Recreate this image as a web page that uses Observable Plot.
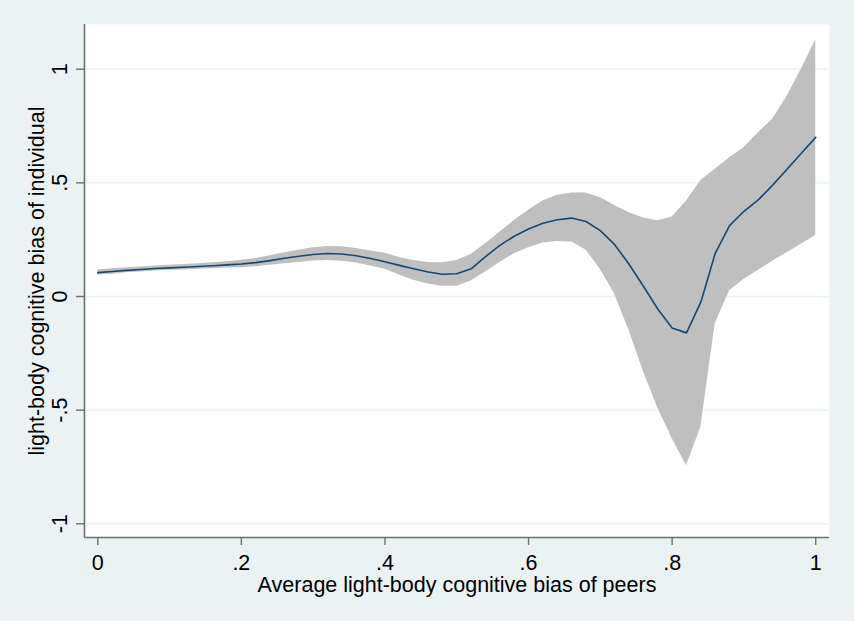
<!DOCTYPE html>
<html><head><meta charset="utf-8">
<script src="https://cdn.jsdelivr.net/npm/d3@7"></script>
<script src="https://cdn.jsdelivr.net/npm/@observablehq/plot@0.6"></script>
<style>
html,body{margin:0;padding:0;background:#EAF2F3;}
</style></head><body><div id="chart"></div>
<script>
const xValues = [0,0.02,0.04,0.06,0.08,0.10,0.12,0.14,0.16,0.18,
  0.20,0.22,0.24,0.26,0.28,0.30,0.32,0.34,0.36,0.38,
  0.40,0.42,0.44,0.46,0.48,0.50,0.52,0.54,0.56,0.58,
  0.60,0.62,0.64,0.66,0.68,0.70,0.72,0.74,0.76,0.78,
  0.80,0.82,0.84,0.86,0.88,0.90,0.92,0.94,0.96,0.98,1.00];
const fitValues = [0.105,0.110,0.115,0.119,0.123,0.126,0.129,0.132,0.135,0.139,
  0.143,0.149,0.158,0.168,0.177,0.185,0.189,0.187,0.179,0.167,
  0.153,0.137,0.122,0.108,0.098,0.100,0.122,0.175,0.225,0.265,
  0.297,0.322,0.338,0.345,0.330,0.290,0.228,0.142,0.045,-0.055,
  -0.139,-0.160,-0.025,0.190,0.312,0.375,0.425,0.490,0.560,0.630,0.700];
const ciUpper = [0.117,0.122,0.126,0.130,0.134,0.137,0.141,0.144,0.148,0.153,
  0.159,0.167,0.179,0.192,0.204,0.214,0.220,0.219,0.211,0.200,
  0.190,0.172,0.158,0.150,0.148,0.158,0.185,0.232,0.283,0.334,
  0.380,0.420,0.445,0.455,0.455,0.435,0.400,0.368,0.345,0.333,
  0.350,0.420,0.510,0.560,0.610,0.655,0.720,0.780,0.880,1.000,1.130];
const ciLower = [0.093,0.098,0.104,0.108,0.112,0.115,0.117,0.120,0.122,0.125,
  0.127,0.131,0.137,0.144,0.150,0.156,0.158,0.155,0.147,0.134,
  0.120,0.095,0.072,0.055,0.045,0.045,0.068,0.108,0.150,0.188,
  0.215,0.235,0.242,0.240,0.205,0.120,0.010,-0.150,-0.330,-0.490,
  -0.625,-0.745,-0.575,-0.120,0.025,0.075,0.115,0.155,0.193,0.230,0.268];
const xTicks = [0,0.2,0.4,0.6,0.8,1];
const xTickLabels = ["0",".2",".4",".6",".8","1"];
const yTicks = [-1,-0.5,0,0.5,1];
const yTickLabels = ["-1","-.5","0",".5","1"];
const xTitle = "Average light-body cognitive bias of peers";
const yTitle = "light-body cognitive bias of individual";

const xDomain = [-0.0185, 1.0192];
const yDomain = [-1.0603, 1.1967];

const data = xValues.map((x, i) => ({x, fit: fitValues[i], lo: ciLower[i], hi: ciUpper[i]}));
const yLab = yTicks.map((v, i) => ({v, t: yTickLabels[i]}));
const axisColor = "#6E6E6E";

const chart = Plot.plot({
  width: 854, height: 621,
  marginLeft: 84, marginRight: 25, marginTop: 24, marginBottom: 84,
  style: {background: "#EAF2F3", fontFamily: "'Liberation Sans', Arial, sans-serif", fontSize: "21.5px", color: "#000", overflow: "visible"},
  x: {domain: xDomain},
  y: {domain: yDomain},
  marks: [
    Plot.frame({fill: "white", stroke: "none"}),
    Plot.gridY(yTicks, {stroke: "#EAF2F3", strokeOpacity: 1, strokeWidth: 1.5}),
    Plot.areaY(data, {x: "x", y1: "lo", y2: "hi", fill: "#BFBFBF"}),
    Plot.lineY(data, {x: "x", y: "fit", stroke: "#1A476F", strokeWidth: 1.6}),
    Plot.ruleX([xDomain[0]], {stroke: axisColor, strokeWidth: 1.6}),
    Plot.ruleY([yDomain[0]], {stroke: axisColor, strokeWidth: 1.6}),
    Plot.axisX(xTicks, {tickSize: 8, tickPadding: 9, stroke: axisColor, strokeWidth: 1.4, fill: "#000",
      tickFormat: d => xTickLabels[xTicks.indexOf(d)], label: null}),
    Plot.axisY(yTicks, {tickSize: 8, stroke: axisColor, strokeWidth: 1.4, tickFormat: () => "", label: null}),
    Plot.text(yLab, {y: "v", text: "t", frameAnchor: "left", dx: -18, rotate: -90, textAnchor: "middle", lineAnchor: "bottom", fill: "#000"}),
    Plot.text([xTitle], {text: d => d, frameAnchor: "bottom", dy: 54, textAnchor: "middle", lineAnchor: "bottom", fill: "#000"}),
    Plot.text([yTitle], {text: d => d, frameAnchor: "left", dx: -41, rotate: -90, textAnchor: "middle", lineAnchor: "bottom", fill: "#000"})
  ]
});
document.getElementById("chart").appendChild(chart);
</script>
</body></html>
